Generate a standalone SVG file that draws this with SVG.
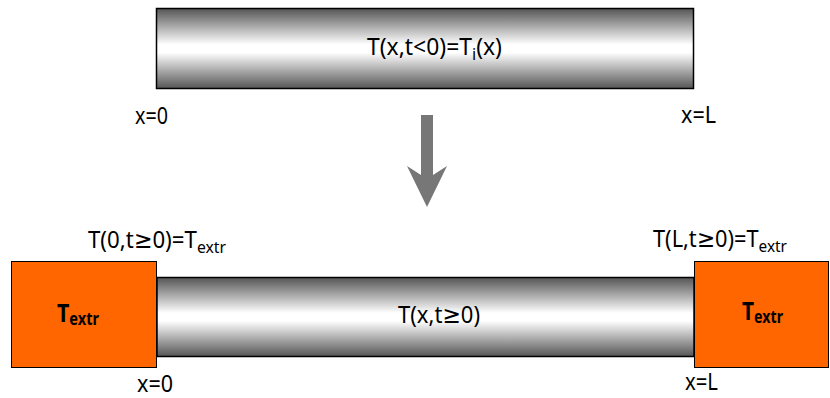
<svg xmlns="http://www.w3.org/2000/svg" width="830" height="398" viewBox="0 0 830 398">
<style>
.t{font-family:"Noto Sans","DejaVu Sans",sans-serif;font-size:24px;fill:#000}
.s{font-size:17px}
.b{font-weight:bold;font-size:25px}
.bs{font-weight:bold;font-size:17px}
.bar{fill:url(#g);stroke:#000;stroke-width:1.5}
.box{fill:#FF6600;stroke:#000;stroke-width:1}
</style>
<defs>
<linearGradient id="g" x1="0" y1="0" x2="0" y2="1">
<stop offset="0" stop-color="#555555"/>
<stop offset="0.45" stop-color="#ffffff"/>
<stop offset="0.55" stop-color="#ffffff"/>
<stop offset="1" stop-color="#555555"/>
</linearGradient>
</defs>
<g id="bar-initial">
<rect class="bar" x="156.5" y="8.5" width="537" height="80"/>
<text class="t" x="367" y="55" textLength="135" lengthAdjust="spacingAndGlyphs">T(x,t&lt;0)=T<tspan class="s" dy="5">i</tspan><tspan dy="-5">(x)</tspan></text>
</g>
<g id="label-x0-top"><text class="t" x="135" y="124" textLength="33" lengthAdjust="spacingAndGlyphs">x=0</text></g>
<g id="label-xL-top"><text class="t" x="681" y="123" textLength="35" lengthAdjust="spacingAndGlyphs">x=L</text></g>
<g id="connectors">
<polygon points="421,115 433,115 433,175 447,166 427,207 407,166 421,175" fill="#777777"/>
</g>
<g id="bar-final">
<rect class="bar" x="157" y="277.5" width="537" height="79"/>
<text class="t" x="398" y="323" textLength="82" lengthAdjust="spacingAndGlyphs">T(x,t≥0)</text>
</g>
<g id="box-left">
<rect class="box" x="11.5" y="261.5" width="145" height="106"/>
<text class="t" x="57" y="322" textLength="42" lengthAdjust="spacingAndGlyphs"><tspan class="b">T</tspan><tspan class="bs" dy="3">extr</tspan></text>
</g>
<g id="box-right">
<rect class="box" x="694.5" y="261.5" width="134" height="106"/>
<text class="t" x="742" y="320" textLength="41" lengthAdjust="spacingAndGlyphs"><tspan class="b">T</tspan><tspan class="bs" dy="3">extr</tspan></text>
</g>
<g id="label-left-bc"><text class="t" x="88" y="248" textLength="138" lengthAdjust="spacingAndGlyphs">T(0,t≥0)=T<tspan class="s" dy="5">extr</tspan></text></g>
<g id="label-right-bc"><text class="t" x="653" y="247" textLength="134" lengthAdjust="spacingAndGlyphs">T(L,t≥0)=T<tspan class="s" dy="5">extr</tspan></text></g>
<g id="label-x0-bottom"><text class="t" x="137" y="392" textLength="36" lengthAdjust="spacingAndGlyphs">x=0</text></g>
<g id="label-xL-bottom"><text class="t" x="685" y="390" textLength="33" lengthAdjust="spacingAndGlyphs">x=L</text></g>
</svg>
